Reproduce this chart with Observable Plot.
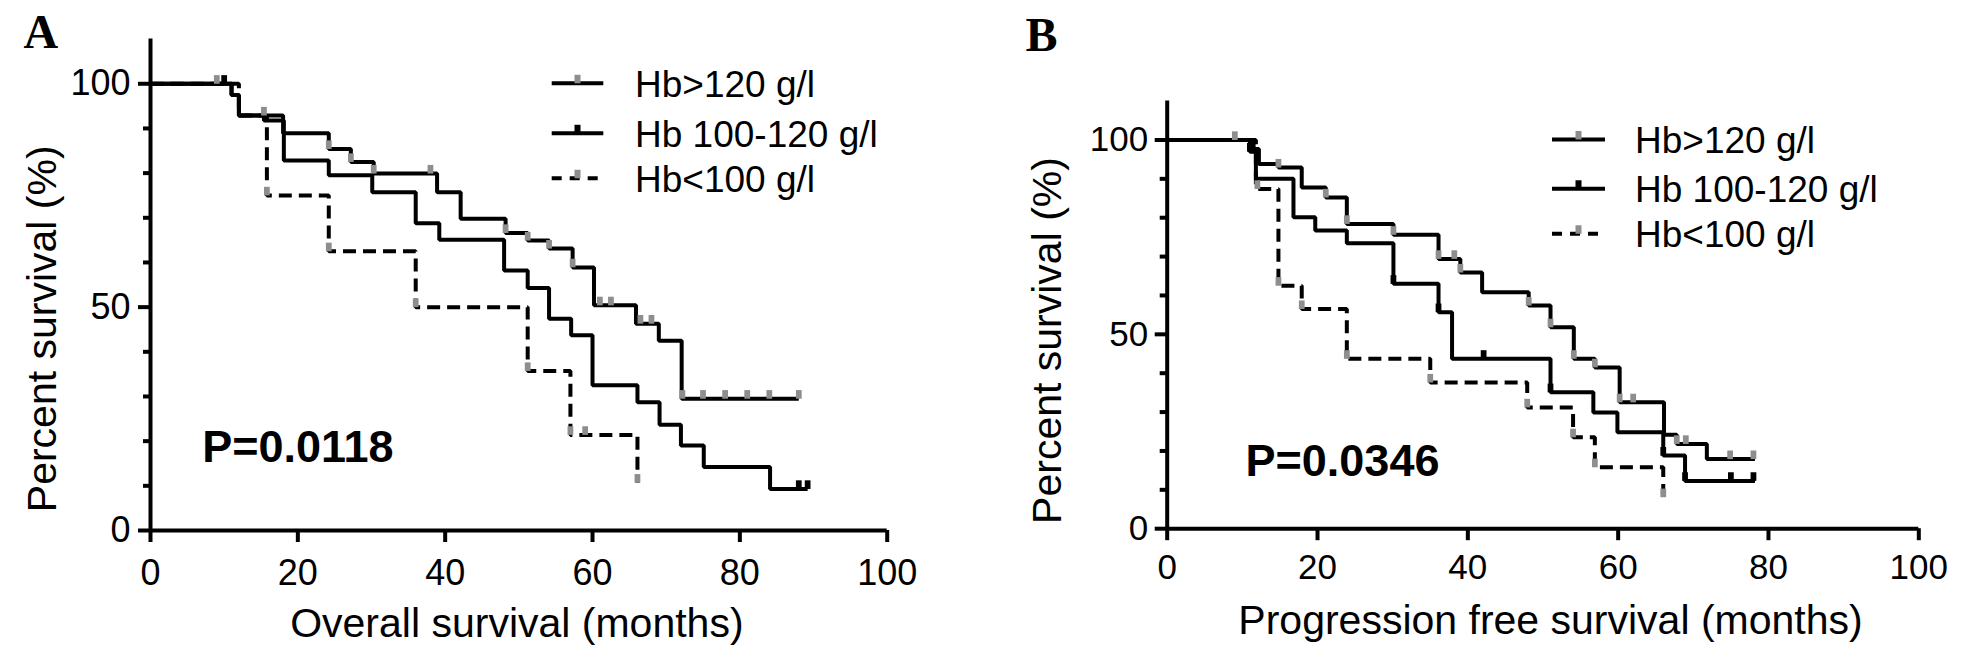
<!DOCTYPE html>
<html><head><meta charset="utf-8">
<script src="https://cdn.jsdelivr.net/npm/d3@7"></script>
<script src="https://cdn.jsdelivr.net/npm/@observablehq/plot@0.6"></script>
<style>
html,body{margin:0;padding:0;background:#fff;}
#wrap{position:relative;width:1967px;height:653px;overflow:hidden;background:#fff;}
.panel{position:absolute;top:0;}
.panel svg{max-width:none !important;}
</style></head><body><div id="wrap"></div>
<script>
// ---------- data ----------
const xTicks = [0, 20, 40, 60, 80, 100];
const yMajor = [0, 50, 100];
const yMinor = [10, 20, 30, 40, 60, 70, 80, 90];
const groupLabels = ["Hb>120 g/l", "Hb 100-120 g/l", "Hb<100 g/l"];

// Panel A: overall survival
const osHighT = [0, 11, 12, 18, 24.2, 27.2, 30.3, 38.9, 42.1, 48.2, 51.2, 54.1, 57.3, 60.2, 65.9, 69, 72.1, 88];
const osHighS = [100, 97.5, 92.9, 88.9, 85.4, 82.5, 79.9, 75.7, 69.8, 66.6, 64.9, 63.1, 58.9, 50.4, 46.3, 42.5, 29.5, 29.5];
const osMidT = [0, 11, 12, 15.4, 18.1, 24.2, 30.1, 36, 39.2, 48, 51.2, 54.1, 57.1, 60, 66.1, 69.1, 72, 75.1, 84.1, 89.2];
const osMidS = [100, 97.5, 92.9, 91.8, 82.8, 79.5, 75.7, 68.8, 65.1, 58.2, 54.3, 47.4, 43.7, 32.5, 28.7, 23.7, 19, 14.2, 9.3, 9.3];
const osLowT = [0, 12, 15.8, 24.2, 36, 51.2, 57, 66.1];
const osLowS = [100, 92.9, 75, 62.5, 50, 35.7, 21.4, 10.7];
const osHighCT = [9, 15.4, 24.2, 27.2, 30.3, 38, 48.2, 51.2, 54.1, 57.3, 61, 62.5, 66.5, 68, 72.2, 75, 78, 81, 84, 88];
const osHighCS = [100, 92.9, 85.4, 82.5, 79.9, 79.9, 66.6, 64.9, 63.1, 58.9, 50.4, 50.4, 46.3, 46.3, 29.5, 29.5, 29.5, 29.5, 29.5, 29.5];
const osMidCT = [10, 88, 89.2];
const osMidCS = [100, 9.3, 9.3];
const osLowCT = [15.8, 24.2, 36, 51.2, 57, 59, 66.1];
const osLowCS = [75, 62.5, 50, 35.7, 21.4, 21.4, 10.7];

// Panel B: progression free survival
const pfsHighT = [0, 11.5, 12.2, 14.8, 17.9, 21.1, 23.9, 30.1, 36.1, 39, 41.9, 48.1, 51, 54.1, 56.9, 60.2, 66.1, 67.8, 71.8, 78.2];
const pfsHighS = [100, 97.7, 93.8, 92.9, 87.8, 85.2, 78.4, 75.6, 69.4, 65.9, 60.8, 57.4, 51.8, 43.7, 41.5, 32.5, 24.2, 21.8, 17.9, 17.9];
const pfsMidT = [0, 11, 11.8, 16.8, 19.7, 23.9, 30.1, 36.1, 37.9, 51, 56.7, 59.9, 66, 68.9, 78.2];
const pfsMidS = [100, 97, 90, 80.1, 76.7, 73.4, 63, 55.7, 43.7, 35.1, 29.9, 24.8, 18.8, 12.3, 12.3];
const pfsLowT = [0, 11.8, 14.8, 17.9, 23.9, 35, 47.9, 54, 56.9, 66];
const pfsLowS = [100, 87.4, 62.5, 56.5, 43.7, 37.6, 31.2, 23.5, 15.8, 8.1];
const pfsHighCT = [9, 14.8, 21.1, 23.9, 30.1, 36.1, 38.2, 39, 48.1, 51, 54.1, 56.9, 60.2, 62, 67.8, 69, 74.9, 78];
const pfsHighCS = [100, 92.9, 85.2, 78.4, 75.6, 69.4, 69.4, 65.9, 57.4, 51.8, 43.7, 41.5, 32.5, 32.5, 21.8, 21.8, 17.9, 17.9];
const pfsMidCT = [11, 30.1, 36.1, 42.1, 51, 66, 68.9, 75, 78];
const pfsMidCS = [97, 63, 55.7, 43.7, 35.1, 18.8, 12.3, 12.3, 12.3];
const pfsLowCT = [12, 14.8, 17.9, 23.9, 35, 47.9, 54, 56.9, 66];
const pfsLowCS = [87.4, 62.5, 56.5, 43.7, 37.6, 31.2, 23.5, 15.8, 8.1];

// ---------- drawing ----------
const GRAY = "#8e8e8e";
const SANS = "'Liberation Sans', Arial, Helvetica, sans-serif";
const LW = 4;
const censorSymbol = {
  draw(ctx, size) {
    const r = Math.sqrt(size / Math.PI);
    ctx.rect(-0.6 * r, -1.8 * r, 1.2 * r, 1.8 * r);
  }
};
const groupStyle = [
  {dash: undefined, tick: GRAY},
  {dash: undefined, tick: "black"},
  {dash: "13,7", tick: GRAY}
];

function rowsOf(t, s) { return t.map((v, i) => ({t: v, s: s[i]})); }

function makePanel(cfg) {
  const marks = [];
  cfg.series.forEach((g, k) => {
    const o = {x: "t", y: "s", curve: "step-after", stroke: "black", strokeWidth: LW, strokeLinejoin: "miter", strokeLinecap: "butt"};
    if (groupStyle[k].dash) o.strokeDasharray = groupStyle[k].dash;
    marks.push(Plot.line(rowsOf(g.t, g.s), o));
  });
  cfg.series.forEach((g, k) => {
    marks.push(Plot.dot(rowsOf(g.ct, g.cs), {x: "t", y: "s", symbol: censorSymbol, r: 4.8, fill: groupStyle[k].tick, stroke: "none"}));
  });
  marks.push(
    Plot.ruleY([0], {x1: 0, x2: 100, stroke: "black", strokeWidth: LW}),
    Plot.ruleX([0], {y1: 0, y2: 110, stroke: "black", strokeWidth: LW}),
    Plot.axisX(xTicks, {tickSize: 12, tickPadding: cfg.xPad, fontSize: cfg.tickFont, strokeWidth: LW, label: null}),
    Plot.axisY(yMajor, {tickSize: 12, tickPadding: cfg.yPad, fontSize: cfg.tickFont, strokeWidth: LW, label: null}),
    Plot.axisY(yMinor, {tickSize: 7, tickFormat: () => "", strokeWidth: LW, label: null}),
    Plot.text([cfg.xTitle], {text: d => d, frameAnchor: "bottom", textAnchor: "middle", lineAnchor: "middle", dx: cfg.xTitleDx, dy: cfg.xTitleDy, fontSize: 41}),
    Plot.text([cfg.yTitle], {text: d => d, frameAnchor: "left", textAnchor: "middle", lineAnchor: "middle", rotate: -90, dx: cfg.yTitleDx, dy: cfg.yTitleDy, fontSize: 41}),
    Plot.text([cfg.pText], {text: d => d, frameAnchor: "bottom-left", textAnchor: "start", lineAnchor: "bottom", dx: cfg.pDx, dy: cfg.pDy, fontSize: 45, fontWeight: "bold"}),
    Plot.text([cfg.letter], {text: d => d, frameAnchor: "top-left", textAnchor: "start", lineAnchor: "bottom", dx: cfg.letterDx, dy: cfg.letterDy, fontSize: 48, fontWeight: "bold", fontFamily: "'Liberation Serif', 'Times New Roman', serif"})
  );
  const chart = Plot.plot({
    width: cfg.width, height: 653,
    marginLeft: cfg.ml, marginRight: cfg.mr, marginTop: cfg.mt, marginBottom: cfg.mb,
    x: {domain: [0, 100]},
    y: {domain: [0, 110]},
    style: {fontFamily: SANS, fontSize: "36px", color: "black", background: "transparent", overflow: "visible"},
    marks
  });
  // legend
  const svg = d3.select(chart);
  const y0 = chart.scale("y").apply(100);
  const lg = svg.append("g").attr("font-family", SANS).attr("font-size", 37).attr("fill", "black").attr("text-anchor", "start");
  groupLabels.forEach((lab, k) => {
    const yy = y0 + cfg.legendRows[k];
    const ln = lg.append("line").attr("x1", cfg.lx1).attr("x2", cfg.lx2).attr("y1", yy).attr("y2", yy)
      .attr("stroke", "black").attr("stroke-width", LW);
    if (k === 2) ln.attr("stroke-dasharray", "10,8");
    const cx = (cfg.lx1 + cfg.lx2) / 2;
    lg.append("rect").attr("x", cx - 3).attr("y", yy - 8.5).attr("width", 6).attr("height", 8.5).attr("fill", groupStyle[k].tick);
    lg.append("text").attr("x", cfg.tx).attr("y", yy + 13.5).attr("text-anchor", "start").text(lab);
  });
  const div = document.createElement("div");
  div.className = "panel";
  div.style.left = cfg.left + "px";
  div.style.width = cfg.width + "px";
  div.appendChild(chart);
  document.getElementById("wrap").appendChild(div);
}

makePanel({
  left: 0, width: 983, ml: 150, mr: 96.3, mt: 38.6, mb: 123,
  tickFont: 36, xPad: 17, yPad: 8,
  series: [
    {t: osHighT, s: osHighS, ct: osHighCT, cs: osHighCS},
    {t: osMidT, s: osMidS, ct: osMidCT, cs: osMidCS},
    {t: osLowT, s: osLowS, ct: osLowCT, cs: osLowCS}
  ],
  xTitle: "Overall survival (months)", xTitleDx: -2, xTitleDy: 93,
  yTitle: "Percent survival (%)", yTitleDx: -108, yTitleDy: 44,
  pText: "P=0.0118", pDx: 51.7, pDy: -68.3,
  letter: "A", letterDx: -127, letterDy: 8.4,
  legendRows: [0, 50, 95], lx1: 551.7, lx2: 603.3, tx: 635
});

makePanel({
  left: 983, width: 984, ml: 183.7, mr: 48.7, mt: 100.6, mb: 124.8,
  tickFont: 35, xPad: 13, yPad: 7,
  series: [
    {t: pfsHighT, s: pfsHighS, ct: pfsHighCT, cs: pfsHighCS},
    {t: pfsMidT, s: pfsMidS, ct: pfsMidCT, cs: pfsMidCS},
    {t: pfsLowT, s: pfsLowS, ct: pfsLowCT, cs: pfsLowCS}
  ],
  xTitle: "Progression free survival (months)", xTitleDx: 7.5, xTitleDy: 91.8,
  yTitle: "Percent survival (%)", yTitleDx: -119, yTitleDy: 25.6,
  pText: "P=0.0346", pDx: 78.3, pDy: -53.2,
  letter: "B", letterDx: -141.7, letterDy: -50.6,
  legendRows: [0, 49.3, 94.3], lx1: 569, lx2: 622, tx: 652
});
</script></body></html>
